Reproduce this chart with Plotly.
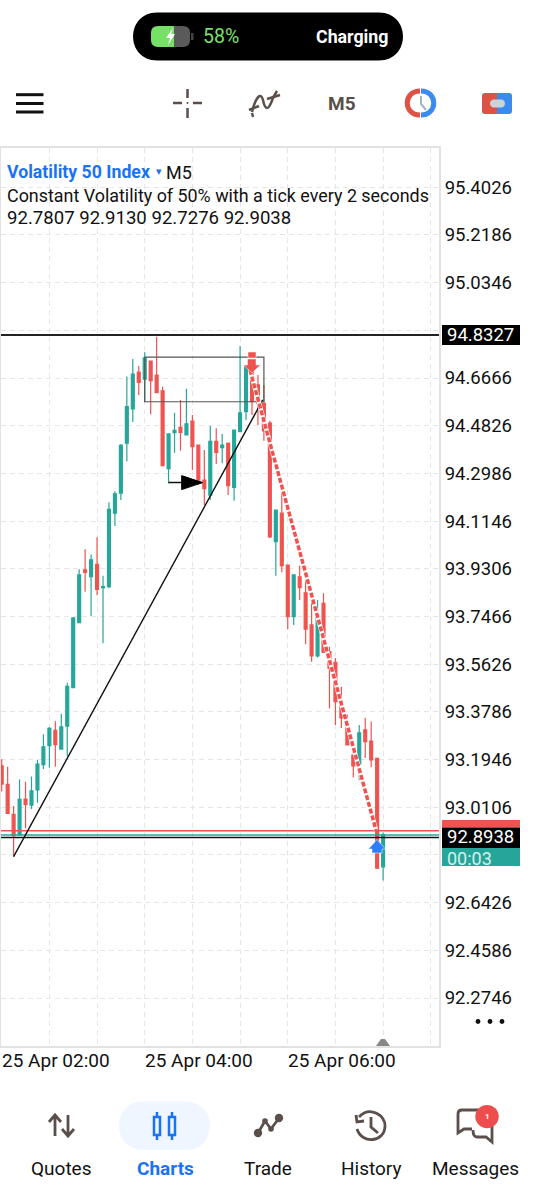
import pandas as pd
import plotly.graph_objects as go

# candles, 5 minute bars from 02:00
opens = [93.170, 93.099, 92.983, 92.904, 93.042, 93.019, 93.077, 93.175, 93.248, 93.307, 93.235, 93.323, 93.472,
         93.723, 93.926, 93.900, 93.948, 93.858, 93.862, 94.145, 94.222, 94.415, 94.547, 94.689, 94.662, 94.732,
         94.678, 94.617, 94.317, 94.456, 94.476, 94.447, 94.500, 94.408, 94.273, 94.215, 94.422, 94.398, 94.415,
         94.245, 94.460, 94.537, 94.691, 94.640, 94.569, 94.493, 94.035, 94.145, 93.945, 93.746, 93.899, 93.838,
         93.714, 93.594, 93.797, 93.611, 93.570, 93.401, 93.328, 93.212, 93.177, 93.309, 93.266, 93.199, 92.7807]
highs = [93.196, 93.167, 93.015, 93.118, 93.109, 93.129, 93.193, 93.292, 93.320, 93.342, 93.370, 93.491, 93.741,
         93.929, 94.006, 93.986, 94.052, 93.904, 94.187, 94.230, 94.412, 94.672, 94.740, 94.713, 94.766, 94.732,
         94.826, 94.633, 94.451, 94.533, 94.582, 94.625, 94.524, 94.408, 94.389, 94.481, 94.473, 94.451, 94.415,
         94.466, 94.790, 94.713, 94.725, 94.678, 94.640, 94.502, 94.157, 94.254, 93.945, 93.907, 93.943, 93.941,
         93.804, 93.810, 93.836, 93.630, 93.586, 93.475, 93.367, 93.251, 93.328, 93.356, 93.341, 93.199, 92.9130]
lows = [93.071, 92.987, 92.820, 92.904, 92.929, 93.004, 93.028, 93.158, 93.163, 93.167, 93.235, 93.208, 93.472,
        93.723, 93.842, 93.748, 93.828, 93.643, 93.855, 94.096, 94.196, 94.345, 94.497, 94.601, 94.575, 94.527,
        94.610, 94.328, 94.260, 94.378, 94.386, 94.447, 94.312, 94.254, 94.177, 94.196, 94.335, 94.338, 94.215,
        94.193, 94.460, 94.505, 94.524, 94.485, 94.425, 94.049, 93.904, 93.917, 93.697, 93.714, 93.810, 93.639,
        93.572, 93.588, 93.608, 93.392, 93.328, 93.316, 93.251, 93.125, 93.116, 93.201, 93.165, 92.772, 92.7276]
closes = [93.100, 92.987, 92.901, 93.041, 93.022, 93.074, 93.177, 93.244, 93.315, 93.252, 93.321, 93.477, 93.741,
          93.907, 93.917, 93.965, 93.851, 93.862, 94.160, 94.220, 94.407, 94.556, 94.682, 94.650, 94.744, 94.656,
          94.610, 94.328, 94.451, 94.465, 94.457, 94.490, 94.402, 94.273, 94.240, 94.422, 94.380, 94.408, 94.251,
          94.466, 94.532, 94.710, 94.575, 94.570, 94.463, 94.054, 94.157, 93.943, 93.746, 93.907, 93.858, 93.698,
          93.594, 93.752, 93.608, 93.547, 93.418, 93.355, 93.251, 93.170, 93.298, 93.264, 93.193, 92.776, 92.9038]
times = pd.date_range("2024-04-25 02:00", periods=len(opens), freq="5min")

price_ticks = [95.4026, 95.2186, 95.0346, 94.8506, 94.6666, 94.4826, 94.2986, 94.1146, 93.9306, 93.7466,
               93.5626, 93.3786, 93.1946, 93.0106, 92.8266, 92.6426, 92.4586, 92.2746]
# labels hidden behind the price tags are left out
price_labels = ["95.4026", "95.2186", "95.0346", "", "94.6666", "94.4826", "94.2986", "94.1146", "93.9306", "93.7466",
                "93.5626", "93.3786", "93.1946", "93.0106", "", "92.6426", "92.4586", "92.2746"]
grid_times = ["2024-04-25 02:00", "2024-04-25 02:40", "2024-04-25 03:20", "2024-04-25 04:00", "2024-04-25 04:40",
              "2024-04-25 05:20", "2024-04-25 06:00", "2024-04-25 06:40", "2024-04-25 07:20", "2024-04-25 08:00"]
date_label_times = ["2024-04-25 02:00", "2024-04-25 04:00", "2024-04-25 06:00"]
date_labels = ["25 Apr 02:00", "25 Apr 04:00", "25 Apr 06:00"]
x_range = ["2024-04-25 01:59:25", "2024-04-25 08:06:54"]
y_range = [92.0894, 95.5540]

level_price = 94.8327
ask_price = 92.920
last_price = 92.9038
bid_price = 92.8938

trend_t = ["2024-04-25 02:10", "2024-04-25 05:39"]
trend_p = [92.820, 94.582]
box_t = ["2024-04-25 04:00", "2024-04-25 05:40", "2024-04-25 05:40", "2024-04-25 04:00", "2024-04-25 04:00"]
box_p = [94.747, 94.747, 94.575, 94.575, 94.747]
arrow_t = ["2024-04-25 04:20", "2024-04-25 04:48"]
arrow_p = [94.263, 94.263]
head_t = ["2024-04-25 04:31", "2024-04-25 04:48:30", "2024-04-25 04:31", "2024-04-25 04:31"]
head_p = [94.290, 94.263, 94.236, 94.290]
trade_t = ["2024-04-25 05:28:18", "2024-04-25 07:14"]
trade_p = [94.698, 92.923]

GREEN = "#26a69a"
RED = "#ef5350"
ICON = "#5a4f4b"
BLUE = "#1a73f5"
FONT = "Roboto"

fig = go.Figure()
fig.add_trace(go.Candlestick(x=times, open=opens, high=highs, low=lows, close=closes,
                             increasing=dict(line=dict(color=GREEN, width=1.2), fillcolor=GREEN),
                             decreasing=dict(line=dict(color=RED, width=1.2), fillcolor=RED),
                             whiskerwidth=0, showlegend=False))


def line(x, y, color, width, dash="solid", **kw):
    fig.add_trace(go.Scatter(x=x, y=y, mode="lines", line=dict(color=color, width=width, dash=dash),
                             showlegend=False, hoverinfo="skip", **kw))


line(x_range, [level_price, level_price], "#222222", 2)
line(x_range, [ask_price, ask_price], RED, 1.5)
line(x_range, [last_price, last_price], GREEN, 1.5)
line(x_range, [bid_price, bid_price], "#111111", 1.5)
line(trend_t, trend_p, "#111111", 1.4)
line(box_t, box_p, "#555555", 1.2)
line(arrow_t, arrow_p, "#111111", 1.5)
line(head_t, head_p, "#000000", 1, fill="toself", fillcolor="#000000")
line(trade_t, trade_p, "#ffffff", 4.5)
line(trade_t, trade_p, RED, 3.5, dash="5px,2px")

# full page axes, so the app chrome can be placed in screen pixels
fig.add_trace(go.Scatter(x=[0], y=[0], xaxis="x2", yaxis="y2", mode="markers", marker=dict(opacity=0),
                         showlegend=False, hoverinfo="skip"))

shapes = []


def rect(x0, y0, x1, y1, fill, line_color=None, width=0):
    shapes.append(dict(type="rect", xref="x2", yref="y2", x0=x0, y0=y0, x1=x1, y1=y1, fillcolor=fill,
                       line=dict(color=line_color or fill, width=width), layer="above"))


def path(d, color=None, width=0, fill=None):
    shapes.append(dict(type="path", xref="x2", yref="y2", path=d, fillcolor=fill or "rgba(0,0,0,0)",
                       line=dict(color=color or "rgba(0,0,0,0)", width=width), layer="above"))


def circle(cx, cy, r, fill, line_color=None, width=0):
    shapes.append(dict(type="circle", xref="x2", yref="y2", x0=cx - r, y0=cy - r, x1=cx + r, y1=cy + r,
                       fillcolor=fill, line=dict(color=line_color or fill, width=width), layer="above"))


def pill(x0, y0, x1, y1, fill):
    r = (y1 - y0) / 2
    k = r * 1.33
    path(f"M{x0 + r},{y0} L{x1 - r},{y0} C{x1 - r + k},{y0} {x1 - r + k},{y1} {x1 - r},{y1} "
         f"L{x0 + r},{y1} C{x0 + r - k},{y1} {x0 + r - k},{y0} {x0 + r},{y0} Z", fill=fill)


# battery pill
pill(133, 12.5, 403, 60.5, "#000000")
path("M158,26 L174,26 L174,47 L158,47 Q151,47 151,40 L151,33 Q151,26 158,26 Z", fill="#77e067")
path("M174,26 L183,26 Q190,26 190,33 L190,40 Q190,47 183,47 L174,47 Z", fill="#5a5a5a")
rect(191, 33, 193.5, 40, "#444444")
path("M173,28 L166,38 L170,38 L168,45 L175,34 L171,34 Z", fill="#ffffff")

# toolbar
for y in [94.7, 103.5, 112]:
    rect(16, y - 1.5, 43.5, y + 1.5, "#111111")
for d in ["M173,103 L182,103", "M193,103 L202,103", "M187.5,89 L187.5,98", "M187.5,108 L187.5,118"]:
    path(d, ICON, 2.5)
circle(187.5, 103, 1, ICON)
path("M252,112 C256,96 261,92 263,100 C265,110 268,110 271,103 C273,97 275,94 277,91", ICON, 2.5)
path("M249,110 L259,106", ICON, 2.5)
path("M267,99 L280,95", ICON, 2.5)
path("M253,117 L252,113", ICON, 2.5)
path("M420,91 C403,91 403,115 420,115", "#de5246", 5)
path("M421,91 C438,91 438,115 421,115", "#3b8aef", 5)
path("M421,96 L421,104 L426,110", "#9fb4c4", 2)
path("M485,93 L497,93 L497,114 L485,114 Q482,114 482,111 L482,96 Q482,93 485,93 Z", fill="#de5246")
path("M497,93 L509,93 Q512,93 512,96 L512,111 Q512,114 509,114 L497,114 Z", fill="#3b8aef")
pill(490, 99.5, 505, 107.5, "#c9d3da")

# plot tags
rect(442, 325, 520, 345, "#000000")
rect(442, 820, 520, 827.5, RED)
rect(442, 827.5, 520, 848, "#000000")
rect(442, 848, 520, 866, GREEN)

# sell and buy arrows
rect(248, 352, 256, 358, RED, "#ffffff", 0.5)
path("M247.5,359 L256,359 L256,365 L260.5,365 L252,373 L243.5,365 L247.5,365 Z", fill=RED, color="#ffffff", width=0.5)
path("M377,839.5 L385.5,849 L382,849 L382,853 L372,853 L372,849 L368.5,849 Z", fill="#2d7ff9", color="#ffffff", width=0.5)

# scroll marker and more dots
path("M376,1046 L381,1039 L385,1039 L390,1046 Z", fill="#888888")
for x in [478, 490, 502]:
    circle(x, 1021.5, 2.4, "#111111")

# bottom bar icons
pill(119, 1101.5, 210, 1150, "#eff6ff")
path("M55,1136 L55,1116 M49,1122 L55,1115 L61,1122", ICON, 2.8)
path("M68,1115 L68,1135 M62,1129 L68,1136 L74,1129", ICON, 2.8)
for x in [157, 172]:
    rect(x - 3, 1117, x + 3, 1135, "rgba(0,0,0,0)", BLUE, 2.5)
    path(f"M{x},1112 L{x},1117 M{x},1135 L{x},1140", BLUE, 2.5)
path("M258,1133 L265,1121 L271,1129 L279,1118", ICON, 2.8)
circle(258, 1133, 4.2, ICON)
circle(265, 1121, 2.8, ICON)
circle(271, 1129, 2.8, ICON)
circle(279, 1118, 4.2, ICON)
path("M359,1117 C370,1105 386,1116 385,1126 C385,1142 362,1145 357,1129", ICON, 2.8)
path("M356,1115 L357,1122 L364,1121", ICON, 2.8)
path("M371,1117 L371,1127 L378,1133", ICON, 2.8)
path("M478,1110 L462,1110 Q458,1110 458,1114 L458,1133 L464,1129 L472,1129", ICON, 2.8)
path("M473,1130 Q473,1137 477,1137 L486,1137 L492,1142 L492,1125", ICON, 2.8)
circle(487, 1116.6, 11.7, "#ee4d4d")


def label(text, x, y, size=17, color="#111111", anchor="left", bold=False, xref="x2", yref="y2", xshift=0):
    if bold:
        text = f"<b>{text}</b>"
    fig.add_annotation(text=text, x=x, y=y, xref=xref, yref=yref, xanchor=anchor, yanchor="middle", showarrow=False,
                       font=dict(family=FONT, size=size, color=color), align="left", xshift=xshift)


label("58%", 201, 36, 19.5, "#7be06b")
label("Charging", 314, 36, 17.8, "#ffffff", bold=True)
label("M5", 342, 103, 19, ICON, anchor="center", bold=True)

label("Volatility 50 Index", 4.5, 172, 17.7, BLUE, bold=True)
label("▾", 154, 171, 11, BLUE)
label("M5", 164, 172, 18)
label("Constant Volatility of 50% with a tick every 2 seconds", 4.5, 195, 17.9)
label("92.7807 92.9130 92.7276 92.9038", 4.5, 218, 18.6)

label("94.8327", 445, 335, 18.5, "#ffffff")
label("92.8938", 445, 837, 18.5, "#ffffff")
label("00:03", 445, 858, 18, "#d8f0ed")

for t, text in zip(date_label_times, date_labels):
    label(text, t, 1060, 19, xref="x", yref="y2", xshift=-2)

label("Quotes", 61, 1168, 19, anchor="center")
label("Charts", 165, 1168, 19, BLUE, anchor="center", bold=True)
label("Trade", 268, 1168, 19, anchor="center")
label("History", 371, 1168, 19, anchor="center")
label("Messages", 475.5, 1168, 19, anchor="center")
label("1", 487, 1116.6, 8, "#ffffff", anchor="center", bold=True)

fig.update_layout(
    width=536, height=1200, margin=dict(l=0, r=0, t=0, b=0), paper_bgcolor="white", plot_bgcolor="rgba(0,0,0,0)",
    shapes=shapes, showlegend=False, boxgap=0.3,
    xaxis=dict(domain=[1 / 536, 439 / 536], range=x_range, type="date", rangeslider=dict(visible=False),
               tickmode="array", tickvals=grid_times, ticktext=[""] * len(grid_times), anchor="y",
               showgrid=True, gridcolor="#e6e6e6", griddash="5px,4px", gridwidth=1.3, zeroline=False,
               showline=True, mirror=True, linecolor="#e2e2e2", linewidth=2),
    yaxis=dict(domain=[1 - 1046 / 1200, 1 - 148 / 1200], range=y_range, side="right", anchor="x",
               tickmode="array", tickvals=price_ticks, ticktext=price_labels, ticks="", 
               tickfont=dict(family=FONT, size=18.5, color="#111111"),
               showgrid=True, gridcolor="#e6e6e6", griddash="5px,4px", gridwidth=1.3, zeroline=False,
               showline=True, mirror=True, linecolor="#e2e2e2", linewidth=2),
    xaxis2=dict(domain=[0, 1], range=[0, 536], anchor="y2", visible=False, fixedrange=True),
    yaxis2=dict(domain=[0, 1], range=[1200, 0], anchor="x2", visible=False, fixedrange=True),
)

fig.write_html("out.html", config=dict(displayModeBar=False), post_script="document.body.style.margin='0';")
